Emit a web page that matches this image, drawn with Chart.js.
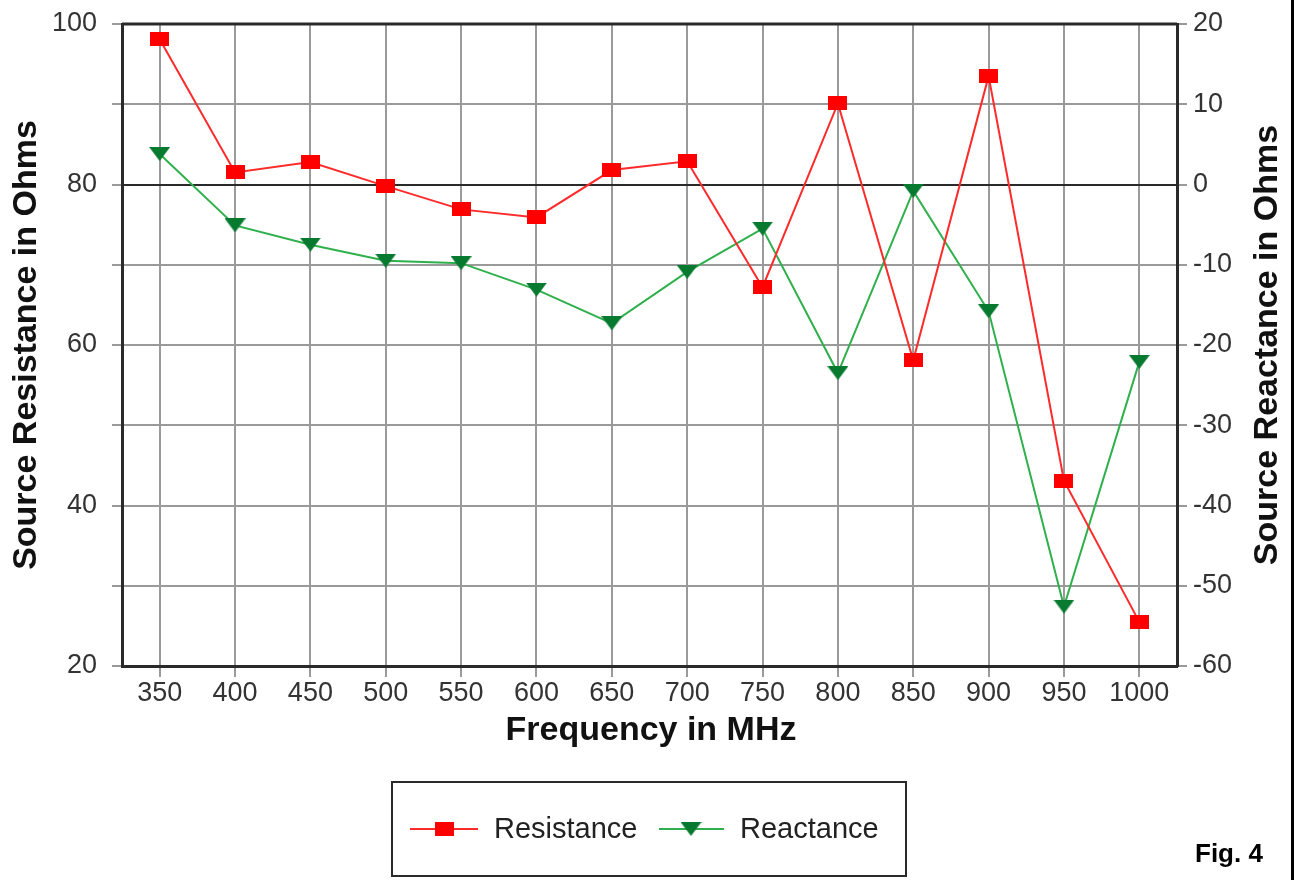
<!DOCTYPE html>
<html>
<head>
<meta charset="utf-8">
<title>Fig. 4 - Source impedance vs frequency</title>
<script src="https://cdn.jsdelivr.net/npm/chart.js@4/dist/chart.umd.min.js"></script>
<style>
  html, body { margin: 0; padding: 0; background: #fff; }
  #wrap { position: relative; width: 1294px; height: 880px; }
</style>
</head>
<body>
<div id="wrap"><canvas id="fig4" width="1294" height="880"></canvas></div>
<script>
/* Source resistance / reactance vs frequency */
const freqLabels = ['350', '400', '450', '500', '550', '600', '650', '700', '750', '800', '850', '900', '950', '1000'];
const resistance = [98.1, 81.5, 82.8, 79.8, 76.9, 75.9, 81.8, 82.9, 67.2, 90.1, 58.1, 93.5, 43.1, 25.5];
const reactance = [3.8, -5.1, -7.5, -9.5, -9.8, -13.1, -17.3, -10.9, -5.5, -23.5, -0.8, -15.8, -52.6, -22.1];
const resTicks = [20, 30, 40, 50, 60, 70, 80, 90, 100];
const reaTicks = [-60, -50, -40, -30, -20, -10, 0, 10, 20];

const RED = '#ff0000';
const RED_LINE = '#ff2a2a';
const GREEN_LINE = '#2fb04c';
const GREEN_MARK = '#087a30';
const GRID = '#9a9a9a';
const DARK = '#2a2a2a';
const FONT = "'Liberation Sans', Arial, sans-serif";

// marker bitmaps (the original markers are wider than tall)
function squareMarker() {
  const c = document.createElement('canvas');
  c.width = 19; c.height = 14;
  const g = c.getContext('2d');
  g.fillStyle = RED;
  g.fillRect(0, 0, 19, 14);
  return c;
}
function triangleMarker() {
  const c = document.createElement('canvas');
  c.width = 21; c.height = 14;
  const g = c.getContext('2d');
  g.fillStyle = GREEN_MARK;
  g.beginPath();
  g.moveTo(0, 0); g.lineTo(21, 0); g.lineTo(10.5, 14); g.closePath();
  g.fill();
  return c;
}
const sq = squareMarker();
const tri = triangleMarker();

// y axes: fixed width, no extra room for the end labels
function fitY(width) {
  return (s) => { s.width = width; s.paddingTop = 0; s.paddingBottom = 0; };
}

const decorations = {
  id: 'decorations',
  beforeDatasetsDraw(chart) {
    const { ctx, chartArea: a } = chart;
    ctx.save();
    ctx.strokeStyle = DARK;
    ctx.lineWidth = 3;
    ctx.beginPath();
    ctx.moveTo(a.left, a.top); ctx.lineTo(a.right, a.top);
    ctx.stroke();
    ctx.restore();
  },
  afterDraw(chart) {
    const { ctx, chartArea: a } = chart;
    const midY = (a.top + a.bottom) / 2;
    ctx.save();
    ctx.fillStyle = '#111';
    ctx.font = 'bold 34px ' + FONT;
    ctx.textAlign = 'center';
    ctx.textBaseline = 'middle';
    ctx.fillText('Frequency in MHz', 651, 731);

    ctx.save();
    ctx.translate(27, midY);
    ctx.rotate(-Math.PI / 2);
    ctx.fillText('Source Resistance in Ohms', 0, 0);
    ctx.restore();

    ctx.save();
    ctx.translate(1268, midY);
    ctx.rotate(-Math.PI / 2);
    ctx.fillText('Source Reactance in Ohms', 0, 0);
    ctx.restore();

    // legend box
    ctx.strokeStyle = DARK;
    ctx.lineWidth = 2;
    ctx.strokeRect(392, 782, 514, 94);
    const ly = 829;
    ctx.strokeStyle = RED_LINE;
    ctx.beginPath(); ctx.moveTo(410, ly); ctx.lineTo(478, ly); ctx.stroke();
    ctx.drawImage(sq, 444 - 9.5, ly - 7);
    ctx.strokeStyle = GREEN_LINE;
    ctx.beginPath(); ctx.moveTo(659, ly); ctx.lineTo(724, ly); ctx.stroke();
    ctx.drawImage(tri, 691 - 10.5, ly - 7);
    ctx.font = '29px ' + FONT;
    ctx.fillStyle = '#222';
    ctx.textAlign = 'left';
    ctx.fillText('Resistance', 494, ly + 1);
    ctx.fillText('Reactance', 740, ly + 1);

    ctx.font = 'bold 26px ' + FONT;
    ctx.fillStyle = '#000';
    ctx.textBaseline = 'alphabetic';
    ctx.fillText('Fig. 4', 1195, 862);

    // picture border on the right
    ctx.fillStyle = '#000';
    ctx.fillRect(1291, 0, 3, 880);
    ctx.restore();
  }
};

new Chart(document.getElementById('fig4'), {
  type: 'line',
  data: {
    labels: freqLabels,
    datasets: [
      {
        label: 'Resistance', data: resistance, yAxisID: 'yRes',
        borderColor: RED_LINE, borderWidth: 2, tension: 0,
        pointStyle: sq, pointRadius: 10, pointHoverRadius: 10,
      },
      {
        label: 'Reactance', data: reactance, yAxisID: 'yRea',
        borderColor: GREEN_LINE, borderWidth: 2, tension: 0,
        pointStyle: tri, pointRadius: 10, pointHoverRadius: 10,
      },
    ],
  },
  options: {
    responsive: false,
    animation: false,
    events: [],
    layout: { padding: { top: 24, left: 0, right: 0, bottom: 0 } },
    plugins: { legend: { display: false }, tooltip: { enabled: false } },
    scales: {
      x: {
        type: 'category',
        offset: true,
        grid: { offset: false, color: GRID, lineWidth: 2, tickLength: 11, tickColor: GRID },
        border: { color: DARK, width: 3 },
        ticks: { font: { family: FONT, size: 27 }, color: '#333', padding: 0, maxRotation: 0, autoSkip: false },
        afterFit: (s) => { s.height = 880 - 666; s.paddingLeft = 0; s.paddingRight = 0; },
      },
      yRes: {
        position: 'left', min: 20, max: 100,
        afterBuildTicks: (s) => { s.ticks = resTicks.map((v) => ({ value: v })); },
        grid: {
          color: (c) => (c.tick && (c.tick.value === 80 || c.tick.value === 100) ? DARK : GRID),
          lineWidth: 2, tickLength: 10, tickColor: GRID,
        },
        border: { color: DARK, width: 3 },
        ticks: {
          autoSkip: false,
          font: { family: FONT, size: 27 }, color: '#333', padding: 15,
          callback: (v) => (v % 20 === 0 ? String(v) : ''),
        },
        afterFit: fitY(122),
      },
      yRea: {
        position: 'right', min: -60, max: 20,
        afterBuildTicks: (s) => { s.ticks = reaTicks.map((v) => ({ value: v })); },
        grid: { drawOnChartArea: false, tickLength: 10, tickColor: GRID, lineWidth: 2 },
        border: { color: DARK, width: 3 },
        ticks: { autoSkip: false, font: { family: FONT, size: 27 }, color: '#333', padding: 6 },
        afterFit: fitY(1294 - 1177),
      },
    },
  },
  plugins: [decorations],
});
</script>
</body>
</html>
